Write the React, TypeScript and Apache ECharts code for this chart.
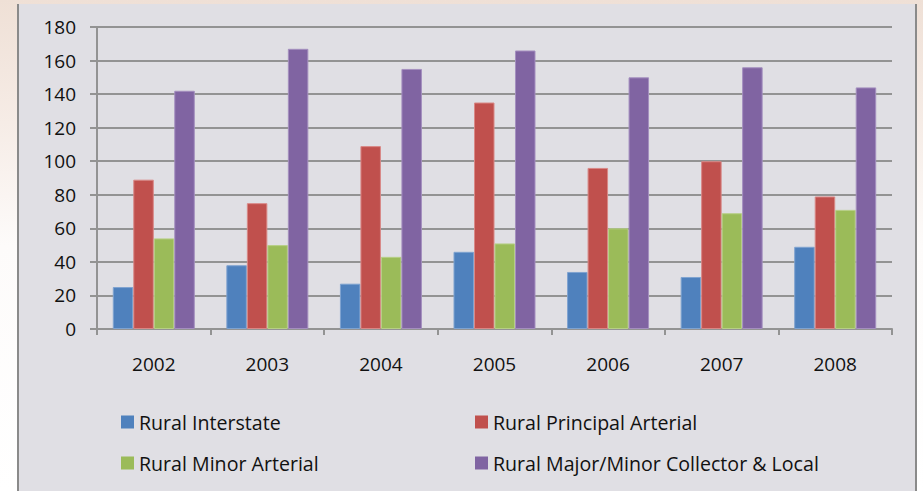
import React, { useEffect, useRef } from "react";
import * as echarts from "echarts";

// Years on the category axis
const years = ["2002", "2003", "2004", "2005", "2006", "2007", "2008"];

// Values per road class
const ruralInterstate = [25, 38, 27, 46, 34, 31, 49];
const ruralPrincipalArterial = [89, 75, 109, 135, 96, 100, 79];
const ruralMinorArterial = [54, 50, 43, 51, 60, 69, 71];
const ruralCollectorLocal = [142, 167, 155, 166, 150, 156, 144];

// Value axis range
const yMin = 0;
const yMax = 180;
const yStep = 20;

const FONT = "Open Sans";
const FONT_SIZE = 19;
const TEXT_COLOR = "#111111";
const GRID_GREY = "#939393";

export default function App() {
  const ref = useRef<HTMLDivElement>(null);

  useEffect(() => {
    const chart = echarts.init(ref.current!, null, { renderer: "svg" });

    const barSeries = (name: string, data: number[], color: string, edge: string) => ({
      name,
      type: "bar",
      data,
      barGap: "0%",
      barCategoryGap: "27.8%",
      itemStyle: { color, borderColor: edge, borderWidth: 1 },
      emphasis: { disabled: true },
    });

    const legendBase = {
      orient: "vertical",
      top: 408,
      padding: 0,
      itemWidth: 13,
      itemHeight: 13,
      itemGap: 21,
      icon: "rect",
      selectedMode: false,
      itemStyle: { borderWidth: 0 },
      textStyle: { fontFamily: FONT, fontSize: 19.6, color: TEXT_COLOR },
    };

    chart.setOption({
      animation: false,
      backgroundColor: "transparent",
      textStyle: { fontFamily: FONT },
      grid: { left: 78, right: 23, top: 23, bottom: 162, containLabel: false },
      legend: [
        { ...legendBase, left: 102, data: ["Rural Interstate", "Rural Minor Arterial"] },
        {
          ...legendBase,
          left: 456,
          data: ["Rural Principal Arterial", "Rural Major/Minor Collector & Local"],
        },
      ],
      xAxis: {
        type: "category",
        data: years,
        axisLine: { lineStyle: { color: GRID_GREY, width: 2 } },
        axisTick: { show: true, length: 6, lineStyle: { color: GRID_GREY, width: 2 } },
        axisLabel: { fontFamily: FONT, fontSize: FONT_SIZE, color: TEXT_COLOR, margin: 25 },
      },
      yAxis: {
        type: "value",
        min: yMin,
        max: yMax,
        interval: yStep,
        axisLine: { show: true, lineStyle: { color: GRID_GREY, width: 2 } },
        axisTick: { show: true, length: 7, lineStyle: { color: GRID_GREY, width: 2 } },
        axisLabel: { fontFamily: FONT, fontSize: FONT_SIZE, color: TEXT_COLOR, margin: 21 },
        splitLine: { show: true, lineStyle: { color: GRID_GREY, width: 2 } },
      },
      series: [
        barSeries("Rural Interstate", ruralInterstate, "#4f81bd", "#7fa3d0"),
        barSeries("Rural Principal Arterial", ruralPrincipalArterial, "#c0504d", "#d98886"),
        barSeries("Rural Minor Arterial", ruralMinorArterial, "#9bbb59", "#b7cf86"),
        barSeries("Rural Major/Minor Collector & Local", ruralCollectorLocal, "#8064a2", "#a48fbf"),
      ],
    });

    return () => chart.dispose();
  }, []);

  return (
    <div
      style={{
        position: "fixed",
        left: 0,
        top: 0,
        width: 923,
        height: 491,
        overflow: "hidden",
        background:
          "linear-gradient(to bottom, #efe0d6 0%, #f6ece6 25%, #fdfbfa 50%, #ffffff 100%)",
      }}
    >
      <div
        style={{
          position: "absolute",
          left: 17,
          top: 4,
          width: 896,
          height: 487,
          borderLeft: "2px solid #8a8a8a",
          borderRight: "2px solid #8a8a8a",
          background: "#e0dfe4",
        }}
      >
        <div ref={ref} style={{ width: 896, height: 487 }} />
      </div>
    </div>
  );
}
